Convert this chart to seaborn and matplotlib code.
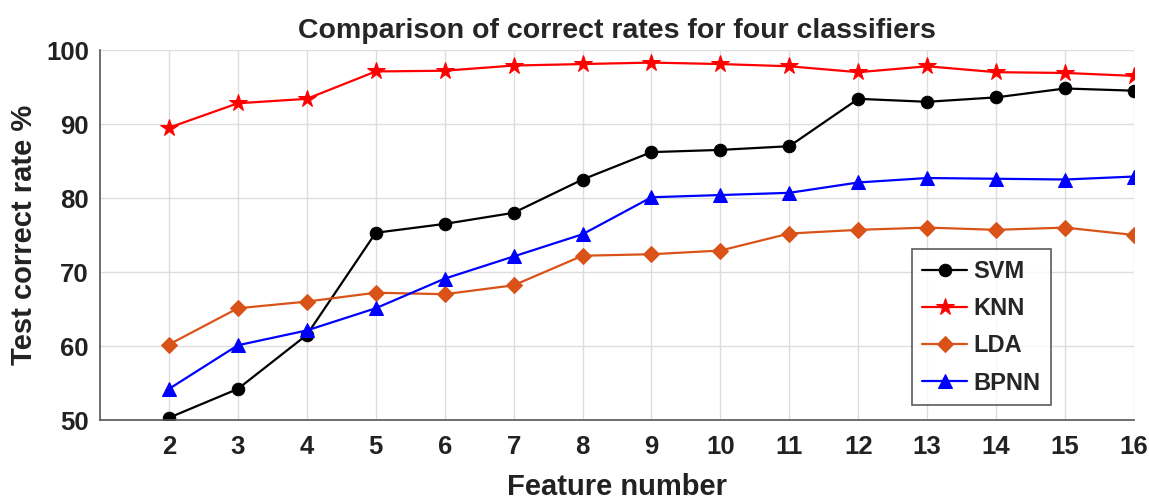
import matplotlib
matplotlib.use("Agg")
import matplotlib.pyplot as plt
import seaborn as sns
import pandas as pd

features = list(range(2, 17))
svm = [50.3, 54.2, 61.5, 75.3, 76.5, 78.0, 82.5, 86.2, 86.5, 87.0, 93.4, 93.0, 93.6, 94.8, 94.5]
knn = [89.5, 92.8, 93.4, 97.1, 97.2, 97.9, 98.1, 98.3, 98.1, 97.8, 97.0, 97.8, 97.0, 96.9, 96.5]
lda = [60.2, 65.1, 66.0, 67.2, 67.0, 68.2, 72.2, 72.4, 72.9, 75.2, 75.7, 76.0, 75.7, 76.0, 75.0]
bpnn = [54.2, 60.1, 62.1, 65.1, 69.1, 72.1, 75.1, 80.1, 80.4, 80.7, 82.1, 82.7, 82.6, 82.5, 82.9]

sns.set_style("white")
plt.rcParams['font.family'] = ['Liberation Sans', 'DejaVu Sans']
plt.rcParams['font.weight'] = 'bold'

fig = plt.figure(figsize=(11.49, 5.0), dpi=100)
ax = fig.add_axes([0.087, 0.16, 0.9, 0.74])

series = [
    ("SVM", svm, "black", "o", 9),
    ("KNN", knn, "red", "*", 13),
    ("LDA", lda, "#D95319", "D", 8.5),
    ("BPNN", bpnn, "blue", "^", 9.5),
]
for name, vals, color, marker, ms in series:
    df = pd.DataFrame({"x": features, "y": vals})
    sns.lineplot(data=df, x="x", y="y", ax=ax, color=color, marker=marker,
                 markersize=ms, markeredgecolor=color, linewidth=1.6, label=name)

ax.set_xlim(1, 16)
ax.set_ylim(50, 100)
ax.set_xticks(features)
ax.set_yticks(range(50, 101, 10))
ax.grid(True, color="#dedede", linewidth=1)
for s in ["top", "right"]:
    ax.spines[s].set_visible(False)
for s in ["left", "bottom"]:
    ax.spines[s].set_color("#555555")
    ax.spines[s].set_linewidth(1.2)
ax.tick_params(direction="in", length=6, width=1.2, color="#555555",
               labelsize=18.5, labelcolor="#222222")
ax.tick_params(axis="x", pad=11)
ax.tick_params(axis="y", pad=8)
for lab in ax.get_xticklabels() + ax.get_yticklabels():
    lab.set_fontweight("bold")

ax.set_xlabel("Feature number", fontsize=21, fontweight="bold", labelpad=10,
              color="#222222")
ax.set_ylabel("Test correct rate %", fontsize=21, fontweight="bold", labelpad=6,
              color="#222222")
ax.set_title("Comparison of correct rates for four classifiers",
             fontsize=20.5, fontweight="bold", pad=9)

leg = ax.legend(loc="lower left", bbox_to_anchor=(0.785, 0.04), fontsize=17,
                frameon=True, fancybox=False, edgecolor="#333333",
                handlelength=1.9, handletextpad=0.25, borderpad=0.45,
                labelspacing=0.6, borderaxespad=0)
leg.get_frame().set_linewidth(1.2)
for t in leg.get_texts():
    t.set_fontweight("bold")

fig.savefig("out.png", dpi=100)
